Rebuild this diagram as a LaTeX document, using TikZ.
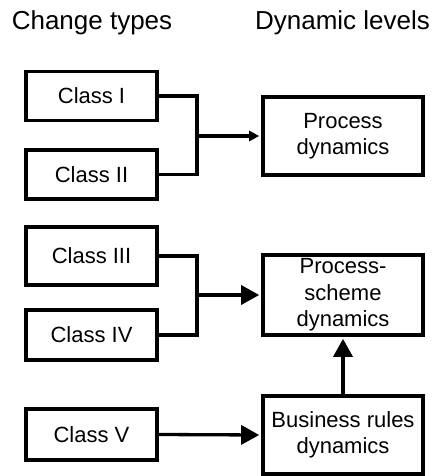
\documentclass[tikz,border=0pt]{standalone}
\usepackage{fontspec}
\setmainfont{Liberation Sans}
\usetikzlibrary{arrows.meta}
\begin{document}
\begin{tikzpicture}[x=1pt,y=-1pt,
  box/.style={draw, line width=3.6pt, align=center, inner sep=0pt,
    font=\fontsize{22}{26.5}\selectfont},
  cls/.style={box, minimum width=131.5pt},
  lvl/.style={box, minimum width=160.4pt},
  wire/.style={line width=3.3pt, line join=miter},
  title/.style={anchor=base, inner sep=0pt, font=\fontsize{26}{30}\selectfont},
  smalltip/.style={wire, -{Triangle[length=10pt,width=10pt]}, shorten >=1.8pt},
  bigtip/.style={wire, -{Triangle[length=18pt,width=19pt]}, shorten >=1.8pt}
]
\useasboundingbox (0,0) rectangle (435,476);

% column headings
\node[title] (h1) at (92,30) {Change types};
\node[title] (h2) at (342.5,30) {Dynamic levels};

% change types
\node[cls, minimum height=49pt] (c1) at (91.5,96) {Class I};
\node[cls, minimum height=49pt] (c2) at (91.5,174.5) {Class II};
\node[cls, minimum height=58pt] (c3) at (91.5,256) {Class III};
\node[cls, minimum height=50pt] (c4) at (91.5,335) {Class IV};
\node[cls, minimum height=51pt] (c5) at (91.5,434.5) {Class V};

% dynamic levels
\node[lvl, minimum height=78.4pt] (pd) at (343,136) {Process\\dynamics};
\node[lvl, minimum height=80.4pt] (ps) at (343,295) {Process-\\scheme\\dynamics};
\node[lvl, minimum height=78.4pt] (br) at (343,435) {Business rules\\dynamics};

% junctions
\coordinate (j1) at (197,136);
\coordinate (j2) at (197,295);

% connectors
\draw[wire] (c1.east) -| (j1) |- (c2.east);
\draw[smalltip] (j1) -- (pd.west);
\draw[wire] (c3.east) -| (j2) |- (c4.east);
\draw[bigtip] (j2) -- (ps.west);
\draw[bigtip] (c5.east) -- (br.west);
\draw[bigtip] (br.north) -- (ps.south);
\end{tikzpicture}
\end{document}
